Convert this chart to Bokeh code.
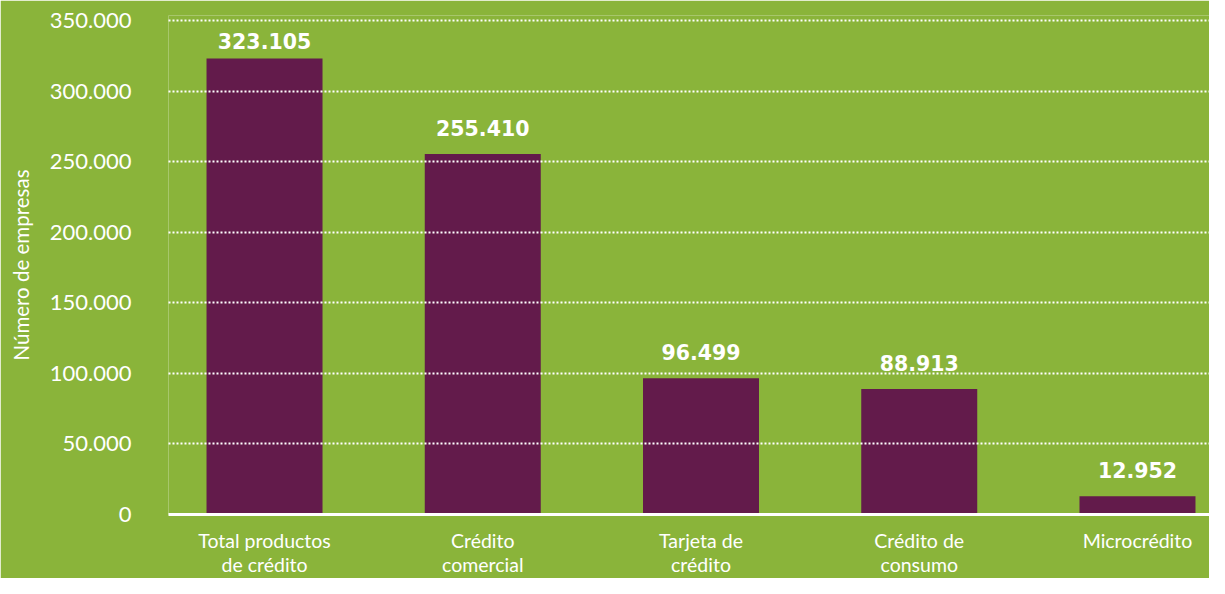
from bokeh.plotting import figure
from bokeh.models import Label, FixedTicker, Range1d, ColumnDataSource
from bokeh.embed import file_html
from bokeh.resources import INLINE

categories = ["Total productos\nde crédito", "Crédito\ncomercial", "Tarjeta de\ncrédito",
              "Crédito de\nconsumo", "Microcrédito"]
values = [323105, 255410, 96499, 88913, 12952]
value_labels = ["323.105", "255.410", "96.499", "88.913", "12.952"]
y_ticks = [0, 50000, 100000, 150000, 200000, 250000, 300000, 350000]
y_tick_labels = ["0", "50.000", "100.000", "150.000", "200.000", "250.000", "300.000", "350.000"]
y_title = "Número de empresas"

BG = "#8AB43A"
BAR = "#631B4B"
WHITE = "#FFFFFF"

xs = list(range(len(categories)))
src = ColumnDataSource(dict(x=xs, top=values))

p = figure(width=1209, height=578, output_backend="svg", toolbar_location=None,
           x_range=Range1d(-0.44, 4.33), y_range=Range1d(0, 353530),
           min_border_left=168, min_border_right=0, min_border_top=15, min_border_bottom=60)
p.background_fill_color = BG
p.border_fill_color = BG
p.outline_line_color = None

p.vbar(x="x", top="top", bottom=0, width=0.5315, source=src, fill_color=BAR, line_color=None)

# grid
p.xgrid.visible = False
p.ygrid.ticker = FixedTicker(ticks=y_ticks[1:])
p.ygrid.grid_line_color = WHITE
p.ygrid.grid_line_width = 2
p.ygrid.grid_line_dash = "2 2"
p.ygrid.level = "overlay"

# x axis
xa = p.xaxis[0]
xa.ticker = FixedTicker(ticks=xs)
xa.major_label_overrides = {i: c for i, c in zip(xs, categories)}
xa.axis_line_color = WHITE
xa.axis_line_width = 3
xa.major_tick_line_color = None
xa.minor_tick_line_color = None
xa.major_label_standoff = 8
xa.major_label_text_color = WHITE
xa.major_label_text_font = "Lato"
xa.major_label_text_font_size = "19.5px"
xa.major_label_text_line_height = 1.05

# y axis
ya = p.yaxis[0]
ya.ticker = FixedTicker(ticks=y_ticks)
ya.major_label_overrides = {t: l for t, l in zip(y_ticks, y_tick_labels)}
ya.axis_line_color = None
ya.major_tick_line_color = None
ya.minor_tick_line_color = None
ya.major_label_text_color = WHITE
ya.major_label_text_font = "Lato"
ya.major_label_text_font_size = "22px"
ya.major_label_text_align = "left"
ya.major_label_standoff = 31
ya.axis_label = y_title
ya.axis_label_text_color = WHITE
ya.axis_label_text_font = "Lato"
ya.axis_label_text_font_size = "20.5px"
ya.axis_label_text_font_style = "normal"
ya.axis_label_standoff = 14

# value labels
offsets = [17, 26, 26, 26, 26]
for x, v, lab, off in zip(xs, values, value_labels, offsets):
    p.add_layout(Label(x=x, y=v, text=lab, y_offset=off, text_align="center",
                       text_baseline="alphabetic", text_color=WHITE,
                       text_font="DejaVu Sans", text_font_style="bold",
                       text_font_size="20.5px"))

open("out.html", "w").write(file_html(p, INLINE))
